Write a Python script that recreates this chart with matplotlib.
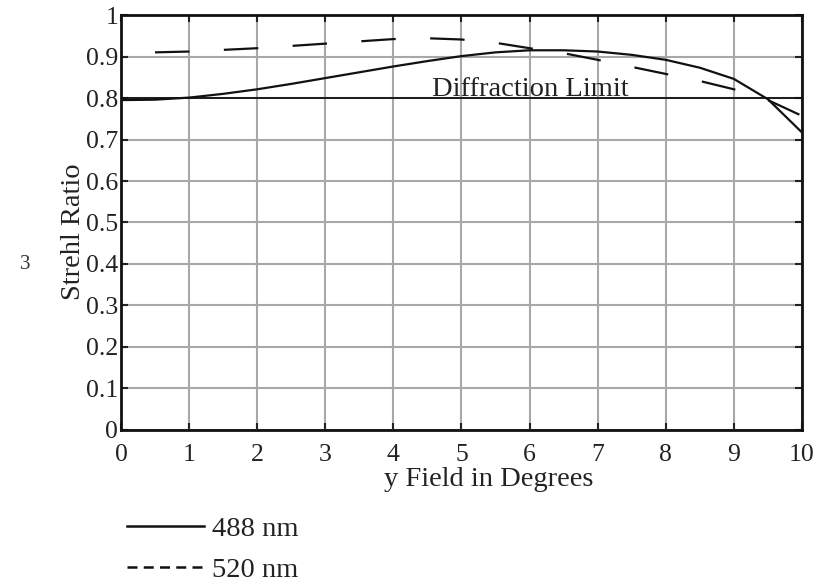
import matplotlib
matplotlib.use("Agg")
import matplotlib.pyplot as plt
from matplotlib.lines import Line2D

plt.rcParams["font.family"] = ["Liberation Serif", "DejaVu Serif"]

# ── Data ───────────────────────────────────────────────────────────────────────
x_488 = [0, 0.5, 1, 1.5, 2, 2.5, 3, 3.5, 4, 4.5, 5, 5.5, 6, 6.5, 7, 7.5, 8, 8.5, 9, 9.5, 10]
s_488 = [0.795, 0.796, 0.801, 0.810, 0.821, 0.834, 0.848, 0.862, 0.876, 0.889, 0.901,
         0.910, 0.915, 0.915, 0.912, 0.904, 0.892, 0.873, 0.846, 0.797, 0.717]

x_520 = [0.5, 1, 2, 3, 4, 4.5, 5, 5.5, 6, 6.5, 7, 7.5, 8, 8.5, 9, 9.5, 10]
s_520 = [0.910, 0.912, 0.920, 0.931, 0.942, 0.944, 0.941, 0.933, 0.920, 0.908, 0.892,
         0.875, 0.858, 0.841, 0.821, 0.795, 0.757]

diff_limit = 0.8
xticks = list(range(0, 11))
yticks = [0, 0.1, 0.2, 0.3, 0.4, 0.5, 0.6, 0.7, 0.8, 0.9, 1]
ytick_labels = ["0", "0.1", "0.2", "0.3", "0.4", "0.5", "0.6", "0.7", "0.8", "0.9", "1"]

fig = plt.figure(figsize=(8.36, 5.82), dpi=100)
ax = fig.add_axes([0.1447, 0.2612, 0.8146, 0.713])

ax.grid(True, color="#a8a8a8", lw=1.5)
ax.set_axisbelow(True)

ax.plot(x_488, s_488, color="#111111", lw=1.6, solid_capstyle="butt")
ax.plot(x_520, s_520, color="#111111", lw=1.6, dashes=(15.5, 15.5), dash_capstyle="butt")
ax.axhline(diff_limit, color="#111111", lw=1.3)
ax.text(4.56, diff_limit + 0.004, "Diffraction Limit", fontsize=20.5, color="#222222",
        va="baseline", ha="left")

ax.set_xlim(0, 10)
ax.set_ylim(0, 1)
ax.set_xticks(xticks)
ax.set_yticks(yticks)
ax.set_yticklabels(ytick_labels)
ax.tick_params(direction="in", length=5, width=1.5, top=True, right=True,
               labelsize=18.5, colors="#222222", pad=2)
ax.tick_params(axis="x", pad=10)
for sp in ax.spines.values():
    sp.set_linewidth(2)
    sp.set_color("#111111")

ax.set_xlabel("y Field in Degrees", fontsize=20.5, color="#222222", labelpad=1)
ax.xaxis.label.set_x(0.540)
ax.set_ylabel("Strehl Ratio", fontsize=20.5, color="#222222", labelpad=0)
ax.yaxis.label.set_y(0.477)

handles = [Line2D([], [], color="#111111", lw=1.8),
           Line2D([], [], color="#111111", lw=1.8, dashes=(4, 2.5))]
fig.legend(handles, ["488 nm", "520 nm"], loc="upper left",
           bbox_to_anchor=(0.121, 0.157), frameon=False, fontsize=20.5,
           handlelength=2.7, handletextpad=0.3, labelspacing=0.52,
           labelcolor="#222222")

fig.text(0.03, 0.545, "3", fontsize=15, color="#333333", ha="center", va="center")

fig.savefig("out.png", dpi=100)
